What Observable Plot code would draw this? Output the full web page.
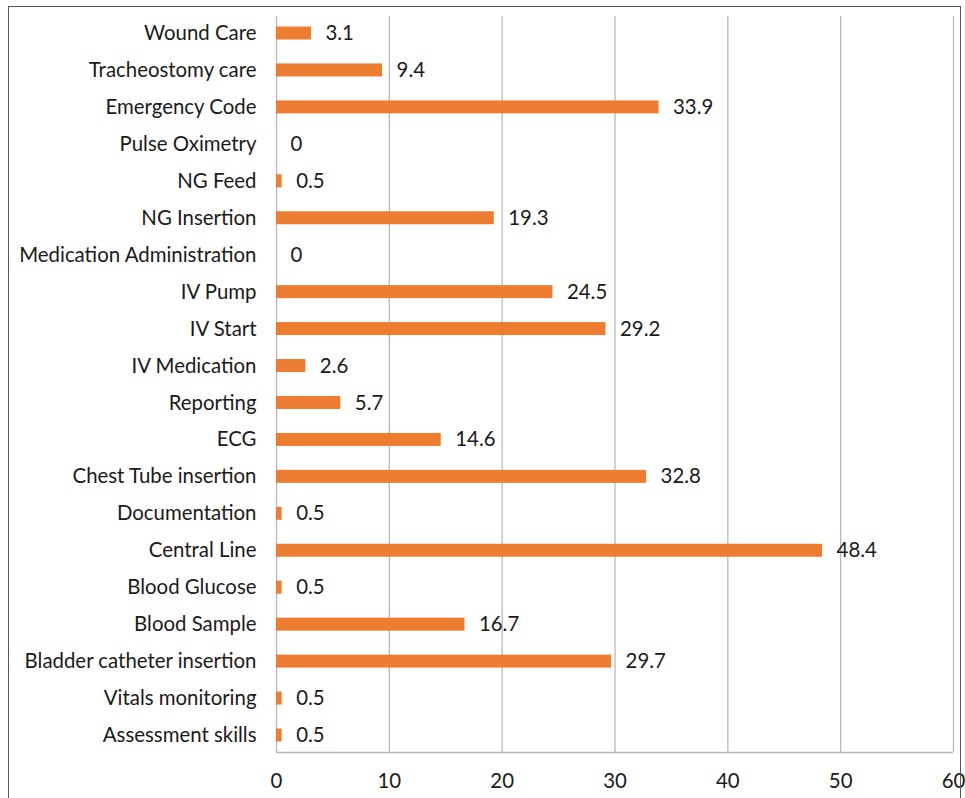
<!DOCTYPE html>
<html>
<head>
<meta charset="utf-8">
<script src="https://cdn.jsdelivr.net/npm/d3@7"></script>
<script src="https://cdn.jsdelivr.net/npm/@observablehq/plot@0.6"></script>
<style>
  html, body { margin: 0; padding: 0; background: #fff; }
  #wrap { position: relative; width: 965px; height: 798px; overflow: hidden; }
  #border { position: absolute; left: 8px; top: 6px; width: 953px; height: 820px; border: 1px solid #555; box-sizing: border-box; pointer-events: none; }
  #chart { position: absolute; left: 0; top: 0; }
</style>
</head>
<body>
<div id="wrap">
  <div id="chart"></div>
  <div id="border"></div>
</div>
<script>
const categories = [
  "Wound Care", "Tracheostomy care", "Emergency Code", "Pulse Oximetry", "NG Feed",
  "NG Insertion", "Medication Administration", "IV Pump", "IV Start", "IV Medication",
  "Reporting", "ECG", "Chest Tube insertion", "Documentation", "Central Line",
  "Blood Glucose", "Blood Sample", "Bladder catheter insertion", "Vitals monitoring", "Assessment skills"
];
const values = [3.1, 9.4, 33.9, 0, 0.5, 19.3, 0, 24.5, 29.2, 2.6, 5.7, 14.6, 32.8, 0.5, 48.4, 0.5, 16.7, 29.7, 0.5, 0.5];
const xTicks = [0, 10, 20, 30, 40, 50, 60];

const data = categories.map((c, i) => ({category: c, value: values[i]}));

const chart = Plot.plot({
  width: 965,
  height: 798,
  marginLeft: 276,
  marginRight: 12,
  marginTop: 16,
  marginBottom: 46,
  style: {fontFamily: "Lato, 'Open Sans', sans-serif", fontSize: "20.4px", color: "#1a1a1a", background: "transparent"},
  x: {domain: [0, 60], ticks: xTicks, label: null},
  y: {domain: categories, paddingInner: 0.648, paddingOuter: 0.284, round: false, label: null},
  marks: [
    Plot.ruleX(xTicks, {stroke: "#b8b8b8", strokeWidth: 1.3}),
    Plot.ruleY([categories[categories.length - 1]], {x1: 0, x2: 60, dy: 17, stroke: "#b8b8b8", strokeWidth: 1.3}),
    Plot.barX(data, {x: "value", y: "category", fill: "#ED7D31"}),
    Plot.text(data, {x: "value", y: "category", text: d => String(d.value), textAnchor: "start", dx: 14, fill: "#1a1a1a", fontSize: 20.4}),
    Plot.axisX({ticks: xTicks, tickSize: 0, tickPadding: 21, fontSize: 20.4, label: null}),
    Plot.axisY({tickSize: 0, tickPadding: 20, fontSize: 20.4, label: null})
  ]
});
document.getElementById("chart").appendChild(chart);
</script>
</body>
</html>
